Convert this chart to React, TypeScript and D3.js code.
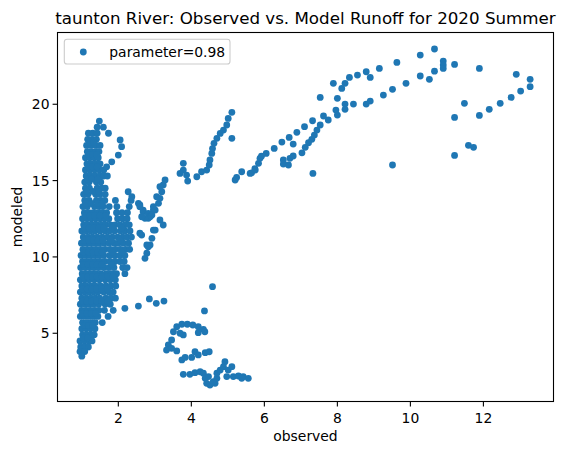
import * as d3 from "d3";
import React from "react";

// dense cluster near observed ~1-2: each row is [modeled, observed values...]
const denseRows: [number, number[]][] = [
  [18.9, [1.48]],
  [18.5, [1.42, 1.59]],
  [18.1, [1.18, 1.3, 1.42, 1.73]],
  [17.7, [1.16, 1.28, 1.4]],
  [17.3, [1.13, 1.25, 1.38, 1.5]],
  [16.9, [1.15, 1.27, 1.39, 1.47]],
  [16.5, [1.1, 1.22, 1.34, 1.45]],
  [16.1, [1.14, 1.26, 1.38, 1.5]],
  [15.7, [1.1, 1.22, 1.35, 1.48, 1.6]],
  [15.3, [1.12, 1.24, 1.36, 1.49, 1.6, 1.7]],
  [14.9, [1.08, 1.2, 1.4, 1.52]],
  [14.5, [1.1, 1.21, 1.42, 1.54, 1.64]],
  [14.1, [1.05, 1.17, 1.38, 1.5, 1.64]],
  [13.7, [1.08, 1.2, 1.4, 1.52, 1.63, 1.92, 2.35]],
  [13.3, [1.03, 1.15, 1.35, 1.48, 1.58, 1.75, 1.96, 2.3]],
  [12.9, [1.07, 1.19, 1.31, 1.44, 1.56, 1.68, 1.95, 2.1, 2.25]],
  [12.5, [1.02, 1.14, 1.26, 1.38, 1.5, 1.62, 1.74, 1.98, 2.12, 2.24]],
  [12.1, [1.05, 1.17, 1.29, 1.41, 1.54, 1.66, 1.79, 1.91, 2.04, 2.18, 2.3]],
  [11.7, [1.0, 1.12, 1.24, 1.36, 1.5, 1.64, 1.76, 1.9, 2.06, 2.18, 2.32]],
  [11.3, [1.04, 1.17, 1.29, 1.42, 1.56, 1.7, 1.84, 1.98, 2.12, 2.24, 2.36]],
  [10.9, [0.99, 1.11, 1.23, 1.35, 1.47, 1.6, 1.74, 1.88, 2.0, 2.14, 2.28]],
  [10.5, [1.03, 1.15, 1.27, 1.39, 1.51, 1.64, 1.78, 1.92, 2.06, 2.2, 2.31]],
  [10.1, [0.98, 1.1, 1.22, 1.34, 1.46, 1.6, 1.76, 1.9, 2.04, 2.18]],
  [9.7, [1.02, 1.14, 1.26, 1.38, 1.5, 1.63, 1.77, 1.91, 2.05, 2.16]],
  [9.3, [0.97, 1.09, 1.21, 1.33, 1.45, 1.6, 1.74, 1.88, 2.12, 2.24]],
  [8.9, [1.01, 1.13, 1.26, 1.38, 1.52, 1.67, 1.81, 1.95, 2.18]],
  [8.5, [0.96, 1.08, 1.2, 1.34, 1.48, 1.64, 1.78, 1.92]],
  [8.1, [1.0, 1.12, 1.25, 1.37, 1.51, 1.66, 1.8, 1.93]],
  [7.7, [0.96, 1.08, 1.2, 1.32, 1.44, 1.6, 1.74, 1.86]],
  [7.3, [1.0, 1.12, 1.25, 1.37, 1.49, 1.66, 1.8, 1.92]],
  [6.9, [0.96, 1.08, 1.2, 1.32, 1.46, 1.64, 1.78]],
  [6.5, [1.0, 1.12, 1.24, 1.36, 1.47, 1.62, 1.86]],
  [6.1, [0.96, 1.08, 1.2, 1.32, 1.44, 1.72]],
  [5.7, [1.02, 1.14, 1.26, 1.37, 1.56]],
  [5.3, [1.0, 1.12, 1.24, 1.36]],
  [4.9, [1.02, 1.14, 1.26, 1.34]],
  [4.5, [0.95, 1.07, 1.19, 1.28]],
  [4.1, [0.97, 1.09, 1.18]],
  [3.8, [0.95, 1.08]],
  [3.5, [1.0]],
];

// extra readings packed in between the rows above, in the core of the cluster
const denseFill: [number, number[]][] = [
  [17.5, [1.2, 1.33]],
  [16.7, [1.18, 1.3, 1.41]],
  [15.9, [1.17, 1.29, 1.42]],
  [15.1, [1.15, 1.28, 1.44]],
  [14.3, [1.12, 1.3, 1.46]],
  [13.5, [1.1, 1.26, 1.44, 1.56]],
  [12.7, [1.09, 1.22, 1.35, 1.5, 1.66]],
  [11.9, [1.07, 1.2, 1.33, 1.46, 1.6, 1.84, 2.1]],
  [11.1, [1.06, 1.19, 1.32, 1.45, 1.58, 1.8, 2.05]],
  [10.3, [1.05, 1.18, 1.31, 1.44, 1.56, 1.84, 2.1]],
  [9.5, [1.04, 1.17, 1.3, 1.42, 1.55, 1.82]],
  [8.7, [1.03, 1.16, 1.29, 1.42, 1.56, 1.72, 1.86]],
  [7.9, [1.02, 1.15, 1.28, 1.41, 1.55, 1.7]],
  [7.1, [1.02, 1.14, 1.27, 1.4, 1.55, 1.72]],
  [6.3, [1.02, 1.14, 1.26, 1.38]],
  [5.5, [1.06, 1.18, 1.3]],
  [4.7, [1.04, 1.16]],
];

// [observed, modeled]
const hookPoints: [number, number][] = [
  [2.05, 17.66], [2.09, 17.22], [2.0, 16.67], [1.82, 16.23], [1.68, 15.9],
  [2.27, 14.27], [2.37, 13.94],
];

const risingArm: [number, number][] = [
  [2.55, 13.51], [2.59, 13.4], [2.68, 13.07], [2.68, 12.96], [2.82, 12.85],
  [2.96, 13.07], [3.01, 13.07], [3.1, 13.51], [3.14, 13.84], [3.19, 14.27],
  [3.23, 14.71], [3.28, 15.04], [3.14, 14.6], [3.05, 13.94], [2.96, 13.29],
  [2.87, 12.63], [2.92, 12.74], [2.82, 12.53], [2.73, 12.53], [2.64, 12.63],
  [3.14, 12.42], [3.23, 12.09], [3.01, 11.76], [2.96, 11.76], [2.64, 11.43],
  [2.59, 11.55], [2.92, 11.22], [2.87, 10.78], [2.78, 10.78], [2.82, 10.67],
  [2.78, 10.24], [2.73, 9.91], [2.59, 13.29],
];

const middleArm: [number, number][] = [
  [3.78, 16.13], [3.78, 15.69], [3.69, 15.47], [3.87, 15.36], [3.9, 14.97],
  [4.15, 15.25], [4.28, 15.58], [4.42, 15.69], [4.49, 16.02], [4.51, 16.35],
  [4.56, 16.78], [4.58, 17.1], [4.62, 17.44], [4.7, 17.77], [4.79, 18.09],
  [4.88, 18.31], [4.97, 18.64], [5.01, 19.07], [5.11, 19.47], [5.11, 17.77],
];

const chainPoints: [number, number][] = [
  [5.2, 15.04], [5.24, 15.21], [5.38, 15.58], [5.61, 15.47], [5.65, 15.51],
  [5.74, 15.78], [5.75, 15.69], [5.84, 16.13], [5.88, 16.46], [5.92, 16.6],
  [6.05, 16.78], [6.27, 17.11], [6.48, 17.52], [6.68, 17.83], [6.89, 18.16],
  [7.1, 18.53], [7.32, 18.92], [7.53, 20.45], [6.52, 16.35], [6.52, 16.08],
  [6.66, 16.02], [6.7, 16.46], [6.79, 16.61], [6.79, 17.39], [7.03, 16.82],
  [7.12, 17.18], [7.21, 17.48], [7.3, 17.7], [7.37, 17.98], [7.44, 18.31],
  [7.53, 18.64], [7.62, 19.23], [7.75, 18.97], [7.33, 15.47],
];

const upperPoints: [number, number][] = [
  [7.96, 19.62], [8.0, 19.29], [8.0, 20.39], [8.21, 20.01], [8.21, 19.67],
  [8.44, 20.01], [8.79, 20.01], [8.9, 20.21], [9.26, 20.6], [9.51, 20.98],
  [9.88, 21.37], [7.89, 21.37], [8.12, 21.04], [8.21, 21.37], [8.33, 21.76],
  [8.55, 21.91], [8.79, 22.13], [8.9, 21.76], [9.15, 22.35], [9.63, 22.74],
  [9.51, 16.02], [10.27, 23.22], [10.66, 23.62], [10.9, 22.83], [10.9, 22.57],
  [10.9, 22.35], [11.21, 22.61], [11.89, 22.35], [10.66, 22.17], [10.52, 21.63],
  [10.27, 21.85], [12.9, 21.96], [13.28, 21.63], [13.28, 21.15], [13.02, 20.86],
  [12.76, 20.45], [12.46, 20.06], [12.16, 19.67], [11.89, 19.27], [11.48, 20.06],
  [11.21, 19.14], [11.59, 17.31], [11.73, 17.18], [11.21, 16.65],
];

const lowerArc: [number, number][] = [
  [4.58, 8.05], [4.36, 6.46], [3.51, 5.1], [3.6, 5.43], [3.74, 5.59],
  [3.89, 5.59], [4.04, 5.54], [4.19, 5.43], [4.33, 5.26], [4.37, 5.1],
  [4.19, 5.04], [3.78, 4.89], [3.69, 5.0], [3.46, 4.56], [3.37, 4.23],
  [3.32, 3.9], [3.46, 4.01], [3.6, 3.84], [3.74, 3.25], [3.83, 3.42],
  [4.01, 3.42], [4.1, 3.79], [4.19, 3.58], [4.38, 3.73], [4.49, 3.79],
  [3.78, 2.31], [3.96, 2.31], [4.1, 2.42], [4.24, 2.48], [4.33, 2.38],
  [4.38, 2.05], [4.42, 1.72], [4.51, 1.61], [4.65, 1.72], [4.7, 2.05],
  [4.7, 2.38], [4.79, 2.59], [4.88, 2.81], [4.92, 3.14], [5.01, 2.59],
  [5.11, 2.81], [4.97, 2.16], [5.15, 2.16], [5.29, 2.2], [5.42, 2.16],
  [5.56, 2.05], [5.38, 2.05], [4.6, 1.83], [4.47, 2.16],
];

const strayPoints: [number, number][] = [
  [2.18, 6.63], [2.55, 6.78], [2.85, 7.25], [3.04, 6.96], [3.25, 7.11],
];

const xTicks = [2, 4, 6, 8, 10, 12];
const yTicks = [5, 10, 15, 20];

const width = 564;
const height = 455;
const left = 57.5;
const right = 553.5;
const top = 32.5;
const bottom = 401.5;
const color = "#1f77b4";
const font = "DejaVu Sans, sans-serif";
const radius = 3.4;

export default function App() {
  const x = d3.scaleLinear([0.334, 13.92], [left, right]);
  const y = d3.scaleLinear([0.53, 24.7], [bottom, top]);

  const rowsToPoints = (rows: [number, number[]][]) =>
    rows.flatMap(([m, obs]) => obs.map((o) => [o, m] as [number, number]));

  const points: [number, number][] = [
    ...rowsToPoints(denseRows),
    ...rowsToPoints(denseFill),
    ...hookPoints,
    ...risingArm,
    ...middleArm,
    ...chainPoints,
    ...upperPoints,
    ...lowerArc,
    ...strayPoints,
  ];

  return (
    <svg
      width={width}
      height={height}
      style={{ position: "absolute", left: 0, top: 0, background: "#fff" }}
      fontFamily={font}
    >
      <text x={(left + right) / 2} y={24} textAnchor="middle" fontSize={16.7}>
        taunton River: Observed vs. Model Runoff for 2020 Summer
      </text>

      {/* points */}
      <g fill={color}>
        {points.map(([o, m], i) => (
          <circle key={i} cx={x(o)} cy={y(m)} r={radius} />
        ))}
      </g>

      {/* frame */}
      <rect
        x={left}
        y={top}
        width={right - left}
        height={bottom - top}
        fill="none"
        stroke="#000"
        strokeWidth={1.1}
      />

      {/* x-axis */}
      <g fontSize={13.9} textAnchor="middle">
        {xTicks.map((t) => (
          <g key={t} transform={`translate(${x(t)},${bottom})`}>
            <line y2={4.9} stroke="#000" strokeWidth={1.1} />
            <text y={21}>{t}</text>
          </g>
        ))}
        <text x={(left + right) / 2} y={441}>
          observed
        </text>
      </g>

      {/* y-axis */}
      <g fontSize={13.9} textAnchor="end">
        {yTicks.map((t) => (
          <g key={t} transform={`translate(${left},${y(t)})`}>
            <line x2={-4.9} stroke="#000" strokeWidth={1.1} />
            <text x={-8} dy="0.36em">
              {t}
            </text>
          </g>
        ))}
        <text
          transform={`translate(22,${(top + bottom) / 2}) rotate(-90)`}
          textAnchor="middle"
        >
          modeled
        </text>
      </g>

      {/* legend */}
      <g>
        <rect
          x={64.3}
          y={39.3}
          width={165.7}
          height={24.7}
          rx={2.8}
          fill="#fff"
          fillOpacity={0.8}
          stroke="#ccc"
          strokeWidth={1.1}
        />
        <circle cx={83.3} cy={52} r={radius} fill={color} />
        <text x={109.3} y={57} fontSize={13.9}>
          parameter=0.98
        </text>
      </g>
    </svg>
  );
}
